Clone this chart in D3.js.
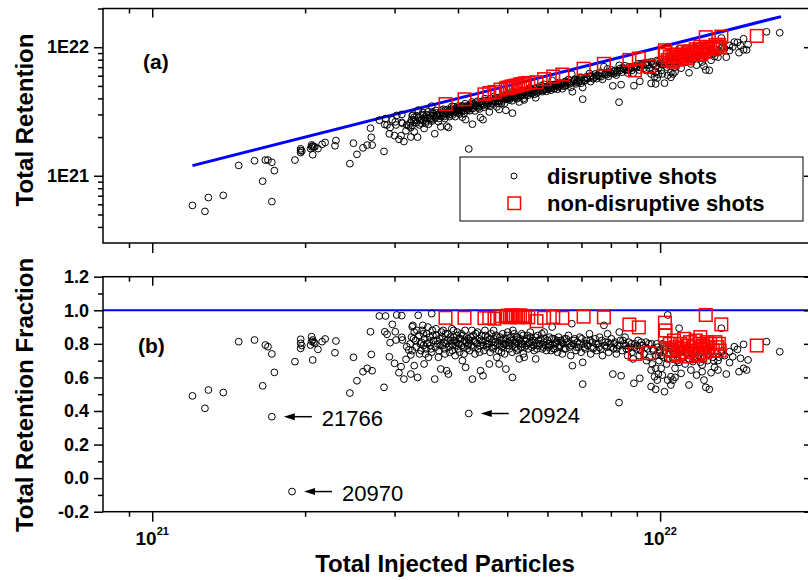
<!DOCTYPE html>
<html><head><meta charset="utf-8">
<script src="https://cdn.jsdelivr.net/npm/d3@7"></script>
<style>body{margin:0;background:#fff}svg{display:block}text{font-family:"Liberation Sans",Arial,Helvetica,sans-serif}</style>
</head><body><svg id="chart" width="808" height="580"></svg>
<script>
// ---------- data (injected particles in units of 1e21, retention fraction) ----------
const xMajorTicks = [1e21, 1e22];
const xTickExponents = ["21", "22"];
const retMajorTicks = [1e21, 1e22];
const retTickLabels = ["1E21", "1E22"];
const fracMajorTicks = [-0.2, 0.0, 0.2, 0.4, 0.6, 0.8, 1.0, 1.2];
const seriesNames = ["disruptive shots", "non-disruptive shots"];
const panelLabels = ["(a)", "(b)"];
const axisTitles = ["Total Retention", "Total Retention Fraction", "Total Injected Particles"];
const fullRetentionRange = [1.2, 17.3];   // 100% retention line, injected ×1e21
const fullRetentionFraction = 1.0;

const disruptive = [
 [1.20,0.49],[1.27,0.416],[1.29,0.525],[1.38,0.51],[1.48,0.813],[1.59,0.823],[1.67,0.793],[1.69,0.783],
 [1.72,0.74],[1.74,0.63],[1.65,0.55],[1.72,0.366],[1.885,-0.08],
 [1.91,0.694],[1.96,0.827],[1.96,0.803],[1.96,0.773],[1.97,0.79],[2.06,0.843],[2.07,0.823],[2.05,0.793],
 [2.09,0.803],[2.06,0.815],[2.08,0.81],[2.12,0.767],[2.19,0.829],[2.16,0.813],[2.30,0.817],[2.29,0.747],
 [2.07,0.704],[2.49,0.72],[2.69,0.872],[2.70,0.737],[2.53,0.58],[2.45,0.507],[2.60,0.634],[2.65,0.654],
 [2.71,0.64],[2.86,0.541],[2.80,0.966],[2.88,0.966],[3.03,0.972],[3.10,0.968],[2.97,0.916],[2.87,0.872],
 [2.90,0.857],[3.01,0.872],[2.94,0.807],[3.02,0.823],[3.10,0.839],[3.11,0.823],[2.93,0.723],[3.00,0.684],
 [3.09,0.664],[3.06,0.628],[3.13,0.59],[3.23,0.62],[3.17,0.783],[3.20,0.763],[3.23,0.734],[3.16,0.708],[3.25,0.902],
 [3.22,0.80],[3.24,0.84],[3.25,0.76],[3.26,0.91],[3.28,0.87],[3.28,0.67],[3.30,0.82],[3.31,0.78],[3.33,0.60],
 [3.34,0.97],[3.35,0.85],[3.36,0.74],[3.38,0.76],[3.39,0.81],[3.40,0.88],[3.41,0.91],[3.42,0.79],[3.43,0.68],
 [3.44,0.83],[3.46,0.77],[3.47,0.86],[3.48,0.80],[3.50,0.72],[3.52,0.84],[3.53,0.79],[3.55,0.98],[3.55,0.75],
 [3.56,0.88],[3.58,0.82],[3.60,0.59],[3.61,0.78],[3.63,0.85],[3.65,0.80],[3.67,0.76],[3.68,0.83],[3.70,0.65],
 [3.71,0.87],[3.73,0.79],[3.75,0.81],[3.77,0.74],[3.78,0.86],[3.80,0.64],[3.81,0.82],[3.83,0.62],[3.84,0.78],
 [3.86,0.84],[3.88,0.80],[3.90,0.76],[3.92,0.88],[3.94,0.82],[3.96,0.79],[3.98,0.85],[4.00,0.77],[4.02,0.83],
 [4.04,0.80],[4.06,0.86],[4.08,0.70],[4.10,0.78],[4.12,0.82],[4.14,0.66],[4.16,0.84],[4.18,0.79],
 [3.27,0.83],[3.32,0.88],[3.37,0.80],[3.42,0.86],[3.45,0.74],[3.49,0.90],[3.51,0.81],[3.54,0.77],[3.57,0.85],
 [3.62,0.89],[3.64,0.82],[3.66,0.72],[3.69,0.79],[3.72,0.84],[3.74,0.88],[3.76,0.77],[3.79,0.80],[3.82,0.86],
 [3.85,0.75],[3.87,0.82],[3.89,0.89],[3.91,0.79],[3.93,0.84],[3.95,0.73],[3.97,0.81],[3.99,0.87],[4.01,0.80],
 [4.03,0.75],[4.05,0.83],[4.07,0.79],[4.09,0.85],[4.11,0.74],[4.13,0.88],[4.15,0.81],[4.17,0.77],[4.19,0.83],
 [4.20,0.385],
 [4.20,0.80],[4.22,0.76],[4.24,0.84],[4.26,0.88],[4.27,0.59],[4.28,0.78],[4.30,0.82],[4.32,0.74],[4.34,0.86],
 [4.36,0.80],[4.38,0.77],[4.40,0.83],[4.42,0.79],[4.43,0.64],[4.45,0.85],[4.47,0.81],[4.48,0.61],[4.50,0.76],
 [4.52,0.88],[4.54,0.82],[4.56,0.78],[4.58,0.84],[4.60,0.80],[4.61,0.68],[4.63,0.75],[4.65,0.86],[4.67,0.81],
 [4.69,0.77],[4.71,0.83],[4.73,0.79],[4.75,0.85],[4.77,0.72],[4.79,0.80],[4.81,0.76],[4.82,0.68],[4.84,0.84],
 [4.86,0.82],[4.88,0.78],[4.90,0.86],[4.92,0.80],[4.94,0.74],[4.96,0.83],[4.97,0.65],[4.99,0.79],[5.01,0.87],
 [5.03,0.81],[5.05,0.77],[5.07,0.84],[5.09,0.80],[5.11,0.75],[5.12,0.60],[5.14,0.82],[5.16,0.86],[5.18,0.78],
 [5.20,0.81],[5.22,0.76],[5.24,0.84],[5.26,0.80],[5.28,0.71],[5.30,0.83],[5.32,0.78],[5.34,0.86],[5.36,0.80],
 [5.38,0.74],[5.40,0.72],[5.42,0.82],[5.45,0.79],[5.48,0.85],[5.50,0.77],[5.53,0.81],[5.56,0.84],[5.59,0.78],
 [5.62,0.82],[5.65,0.76],[5.69,0.71],[5.70,0.80],[5.74,0.85],[5.78,0.79],[5.82,0.83],[5.86,0.77],[5.90,0.81],
 [5.91,0.87],[5.95,0.79],
 [4.21,0.82],[4.25,0.79],[4.29,0.85],[4.33,0.81],[4.37,0.87],[4.41,0.75],[4.44,0.82],[4.49,0.79],[4.53,0.85],
 [4.57,0.80],[4.62,0.83],[4.66,0.78],[4.70,0.88],[4.74,0.81],[4.78,0.84],[4.83,0.79],[4.87,0.75],[4.91,0.83],
 [4.95,0.80],[5.00,0.85],[5.04,0.79],[5.08,0.82],[5.13,0.88],[5.17,0.80],[5.21,0.84],[5.25,0.77],[5.29,0.82],
 [5.33,0.80],[5.37,0.85],[5.41,0.78],[5.46,0.83],[5.51,0.80],[5.55,0.87],[5.60,0.81],[5.64,0.79],[5.68,0.84],
 [5.72,0.77],[5.76,0.82],[5.80,0.80],[5.85,0.86],[5.89,0.78],[5.93,0.83],[5.97,0.76],
 [6.00,0.82],[6.03,0.78],[6.06,0.84],[6.10,0.76],[6.13,0.90],[6.15,0.80],[6.18,0.83],[6.21,0.77],[6.25,0.81],
 [6.28,0.75],[6.31,0.84],[6.35,0.79],[6.38,0.82],[6.42,0.74],[6.45,0.80],[6.49,0.83],[6.52,0.77],[6.56,0.81],
 [6.60,0.85],[6.63,0.78],[6.67,0.73],[6.70,0.92],[6.72,0.67],[6.75,0.80],[6.79,0.83],[6.83,0.76],[6.87,0.81],
 [6.91,0.78],[6.95,0.84],[6.99,0.75],[7.04,0.69],[7.04,0.56],[7.08,0.80],[7.12,0.77],[7.16,0.82],[7.20,0.79],
 [7.26,0.86],[7.30,0.74],[7.35,0.81],[7.40,0.78],[7.45,0.83],[7.50,0.76],[7.55,0.80],[7.60,0.84],[7.65,0.77],
 [7.70,0.73],[7.75,0.91],[7.80,0.81],[7.85,0.78],[7.88,0.86],[7.92,0.75],[7.97,0.80],[8.02,0.83],[8.07,0.62],
 [8.10,0.77],[8.15,0.81],[8.20,0.74],[8.25,0.79],[8.30,0.45],[8.31,0.87],[8.35,0.82],[8.38,0.61],[8.42,0.76],
 [8.48,0.80],[8.53,0.84],[8.58,0.77],[8.63,0.73],[8.68,0.81],[8.74,0.78],[8.80,0.75],[8.88,0.565],[8.92,0.80],
 [8.98,0.77],[9.05,0.82],[9.12,0.595],[9.15,0.76],[9.22,0.79],[9.30,0.74],[9.38,0.81],[9.45,0.77],[9.52,0.72],
 [9.60,0.644],[9.60,0.545],[9.62,0.80],[9.70,0.76],[9.75,0.604],[9.80,0.654],[9.80,0.529],[9.82,0.73],
 [9.87,0.584],[9.90,0.78],[9.95,0.70],
 [6.02,0.80],[6.08,0.79],[6.12,0.83],[6.17,0.77],[6.22,0.80],[6.27,0.82],[6.33,0.78],[6.40,0.81],[6.47,0.77],
 [6.54,0.83],[6.61,0.80],[6.68,0.79],[6.77,0.82],[6.85,0.78],[6.93,0.80],[7.01,0.83],[7.10,0.78],[7.18,0.80],
 [7.28,0.82],[7.38,0.77],[7.48,0.80],[7.58,0.78],[7.68,0.82],[7.78,0.79],[7.90,0.81],[8.00,0.78],[8.12,0.80],
 [8.22,0.77],[8.33,0.79],[8.45,0.82],[8.55,0.79],[8.66,0.77],[8.78,0.80],[8.90,0.78],[9.02,0.79],[9.18,0.81],
 [9.35,0.78],[9.50,0.80],[9.68,0.77],[9.85,0.80],[9.98,0.75],[9.40,0.70],[9.10,0.73],[8.85,0.71],[9.65,0.68],[9.92,0.62],
 [10.05,0.654],[10.10,0.614],[10.20,0.515],[10.35,0.584],[10.35,0.972],[10.50,0.604],[10.00,0.76],[10.10,0.80],
 [10.15,0.72],[10.25,0.78],[10.30,0.68],[10.40,0.74],[10.45,0.79],[10.50,0.555],[10.60,0.584],[10.70,0.60],
 [10.70,0.654],[10.60,0.71],[10.80,0.75],[10.90,0.893],[10.90,0.69],[11.00,0.624],[11.00,0.77],[11.10,0.72],
 [11.20,0.68],[11.30,0.74],[11.40,0.555],[11.50,0.644],[11.50,0.76],[11.60,0.694],[11.70,0.71],[11.80,0.614],
 [11.90,0.73],[12.00,0.69],[12.10,0.634],[12.10,0.674],[12.20,0.584],[12.30,0.541],[12.50,0.529],[12.40,0.70],
 [12.60,0.628],[12.70,0.72],[12.80,0.66],[13.00,0.644],[13.00,0.70],[13.20,0.893],[13.30,0.76],[13.50,0.62],
 [13.70,0.753],[13.70,0.688],[13.90,0.723],[14.00,0.783],[14.20,0.767],[14.30,0.634],[14.40,0.714],[14.60,0.797],
 [14.60,0.654],[14.80,0.644],[14.90,0.704],[16.20,0.813],[17.20,0.753],
 [10.05,0.73],[10.20,0.75],[10.35,0.71],[10.50,0.77],[10.65,0.74],[10.80,0.70],[10.95,0.76],[11.10,0.73],
 [11.25,0.77],[11.40,0.71],[11.55,0.74],[11.70,0.76],[11.85,0.72],[12.00,0.75],[12.15,0.71],[12.30,0.77],
 [12.45,0.73],[12.60,0.75],[12.75,0.70],[12.90,0.74],[13.05,0.72],[13.20,0.75],[13.40,0.73]
];

const nonDisruptive = [
 [3.78,0.955],[4.12,0.955],[4.51,0.953],[4.61,0.955],[4.72,0.95],[4.85,0.965],[4.97,0.962],[5.01,0.968],
 [5.06,0.958],[5.10,0.970],[5.15,0.962],[5.20,0.966],[5.25,0.958],[5.30,0.970],[5.36,0.962],[5.42,0.966],
 [5.50,0.958],[5.71,0.935],[5.91,0.955],[6.16,0.960],[6.42,0.955],[7.07,0.962],[7.75,0.958],[8.70,0.915],
 [9.08,0.898],[8.92,0.740],[9.52,0.745],[10.22,0.926],[10.25,0.880],[10.22,0.850],[10.35,0.767],
 [10.45,0.80],[10.55,0.76],[10.65,0.82],[10.75,0.78],[10.85,0.74],[10.95,0.80],[11.05,0.77],[11.15,0.83],
 [11.25,0.75],[11.35,0.79],[11.45,0.81],[11.55,0.76],[11.65,0.78],[11.75,0.82],[11.85,0.74],[11.95,0.80],
 [12.05,0.77],[12.00,0.84],[12.15,0.79],[12.25,0.75],[12.35,0.81],[12.45,0.78],[12.55,0.80],[12.70,0.76],
 [12.85,0.81],[12.95,0.78],[13.05,0.80],[13.10,0.76],[10.60,0.73],[11.30,0.725],[12.00,0.73],
 [12.30,0.972],[13.20,0.916],[15.50,0.79]
];

const annotations = [
 {label: "21766", inj: 1.72, frac: 0.366},
 {label: "20924", inj: 4.20, frac: 0.385},
 {label: "20970", inj: 1.885, frac: -0.08}
];

// ---------- layout ----------
const E21 = 1e21;
const L = 103, R = 813;
const topP = {y0: 8.5, y1: 243};
const botP = {y0: 276.7, y1: 511.7};
const svg = d3.select("#chart");

const x = d3.scaleLog().domain([0.8e21, 2e22]).range([L, R]);
const yRet = d3.scaleLog().domain([3e20, 2e22]).range([topP.y1, topP.y0]);
const yFrac = d3.scaleLinear().domain([-0.2, 1.2]).range([botP.y1, botP.y0]);

const xMinor = [9e20, 2e21,3e21,4e21,5e21,6e21,7e21,8e21,9e21, 2e22];
const retMinor = [4e20,5e20,6e20,7e20,8e20,9e20, 2e21,3e21,4e21,5e21,6e21,7e21,8e21,9e21, 2e22];
const fracMinor = [-0.1, 0.1, 0.3, 0.5, 0.7, 0.9, 1.1];

const MAJ = 9, MIN = 5;
function styleAxis(g) {
  g.select(".domain").remove();
  g.selectAll(".tick line").attr("stroke", "#000").attr("stroke-width", 1.5);
  g.selectAll(".tick text").attr("fill", "#000").attr("font-weight", "bold")
   .attr("font-size", 18).attr("font-family", "'Liberation Sans', Arial, sans-serif");
}
function xAxes(panel) {
  svg.append("g").attr("transform", `translate(0,${panel.y1})`)
    .call(d3.axisBottom(x).tickValues(xMinor).tickSize(MIN).tickFormat("")).call(styleAxis);
  svg.append("g").attr("transform", `translate(0,${panel.y1})`)
    .call(d3.axisBottom(x).tickValues(xMajorTicks).tickSize(10).tickFormat("")).call(styleAxis);
  svg.append("g").attr("transform", `translate(0,${panel.y0})`)
    .call(d3.axisBottom(x).tickValues(xMinor).tickSize(MIN).tickFormat("")).call(styleAxis);
  svg.append("g").attr("transform", `translate(0,${panel.y0})`)
    .call(d3.axisBottom(x).tickValues(xMajorTicks).tickSize(MAJ).tickFormat("")).call(styleAxis);
}
function yAxes(scale, major, minor, fmt) {
  svg.append("g").attr("transform", `translate(${L},0)`)
    .call(d3.axisLeft(scale).tickValues(minor).tickSize(MIN).tickFormat("")).call(styleAxis);
  svg.append("g").attr("transform", `translate(${L},0)`)
    .call(d3.axisLeft(scale).tickValues(major).tickSize(MAJ).tickPadding(5).tickFormat(fmt)).call(styleAxis);
  svg.append("g").attr("transform", `translate(${R},0)`)
    .call(d3.axisLeft(scale).tickValues(minor).tickSize(MIN).tickFormat("")).call(styleAxis);
  svg.append("g").attr("transform", `translate(${R},0)`)
    .call(d3.axisLeft(scale).tickValues(major).tickSize(MAJ).tickFormat("")).call(styleAxis);
}

const defs = svg.append("defs");
defs.append("clipPath").attr("id", "clipTop").append("rect")
  .attr("x", L).attr("y", topP.y0).attr("width", R - L).attr("height", topP.y1 - topP.y0);
defs.append("clipPath").attr("id", "clipBot").append("rect")
  .attr("x", L).attr("y", botP.y0).attr("width", R - L).attr("height", botP.y1 - botP.y0);

// ---------- panel (a) ----------
const gA = svg.append("g").attr("clip-path", "url(#clipTop)");
gA.append("line")
  .attr("x1", x(fullRetentionRange[0] * E21)).attr("y1", yRet(fullRetentionRange[0] * E21))
  .attr("x2", x(fullRetentionRange[1] * E21)).attr("y2", yRet(fullRetentionRange[1] * E21))
  .attr("stroke", "#0000ff").attr("stroke-width", 3);
gA.selectAll("circle.d").data(disruptive.filter(d => d[1] > 0)).join("circle")
  .attr("class", "d")
  .attr("cx", d => x(d[0] * E21)).attr("cy", d => yRet(d[0] * d[1] * E21)).attr("r", 3.4)
  .attr("fill", "none").attr("stroke", "#000").attr("stroke-width", 1);
gA.selectAll("rect.n").data(nonDisruptive).join("rect")
  .attr("class", "n")
  .attr("x", d => x(d[0] * E21) - 6.3).attr("y", d => yRet(d[0] * d[1] * E21) - 6.3)
  .attr("width", 12.6).attr("height", 12.6)
  .attr("fill", "none").attr("stroke", "#ff0000").attr("stroke-width", 1.5);

// ---------- panel (b) ----------
const gB = svg.append("g").attr("clip-path", "url(#clipBot)");
gB.append("line")
  .attr("x1", L).attr("x2", R)
  .attr("y1", yFrac(fullRetentionFraction)).attr("y2", yFrac(fullRetentionFraction))
  .attr("stroke", "#0000ff").attr("stroke-width", 2.2);
gB.selectAll("circle.d").data(disruptive).join("circle")
  .attr("class", "d")
  .attr("cx", d => x(d[0] * E21)).attr("cy", d => yFrac(d[1])).attr("r", 3.4)
  .attr("fill", "none").attr("stroke", "#000").attr("stroke-width", 1);
gB.selectAll("rect.n").data(nonDisruptive).join("rect")
  .attr("class", "n")
  .attr("x", d => x(d[0] * E21) - 6.3).attr("y", d => yFrac(d[1]) - 6.3)
  .attr("width", 12.6).attr("height", 12.6)
  .attr("fill", "none").attr("stroke", "#ff0000").attr("stroke-width", 1.5);

// annotations
annotations.forEach(a => {
  const px = x(a.inj * E21), py = yFrac(a.frac);
  svg.append("line").attr("x1", px + 20).attr("x2", px + 40).attr("y1", py).attr("y2", py)
    .attr("stroke", "#000").attr("stroke-width", 1.5);
  svg.append("path")
    .attr("d", `M${px + 12},${py} L${px + 23},${py - 3.5} L${px + 23},${py + 3.5} Z`)
    .attr("fill", "#000");
  svg.append("text").attr("x", px + 50).attr("y", py + 9).text(a.label)
    .attr("font-size", 22).attr("fill", "#000");
});

// ---------- axes ----------
xAxes(topP);
xAxes(botP);
yAxes(yRet, retMajorTicks, retMinor, (d, i) => retTickLabels[i]);
yAxes(yFrac, fracMajorTicks, fracMinor, d => d.toFixed(1));

[topP, botP].forEach(p => {
  svg.append("rect").attr("x", L).attr("y", p.y0).attr("width", R - L).attr("height", p.y1 - p.y0)
    .attr("fill", "none").attr("stroke", "#000").attr("stroke-width", 1.5);
});

xMajorTicks.forEach((v, i) => {
  const t = svg.append("text").attr("x", x(v)).attr("y", 545).attr("text-anchor", "middle")
    .attr("font-weight", "bold").attr("font-size", 19).attr("fill", "#000");
  t.append("tspan").text("10");
  t.append("tspan").attr("dy", -10).attr("font-size", 11).text(xTickExponents[i]);
});

svg.append("text").attr("x", 143).attr("y", 69).text(panelLabels[0])
  .attr("font-weight", "bold").attr("font-size", 21);
svg.append("text").attr("x", 138).attr("y", 353).text(panelLabels[1])
  .attr("font-weight", "bold").attr("font-size", 21);

svg.append("text").attr("transform", "translate(33,120) rotate(-90)").attr("text-anchor", "middle")
  .attr("font-weight", "bold").attr("font-size", 24).text(axisTitles[0]);
svg.append("text").attr("transform", "translate(33,395) rotate(-90)").attr("text-anchor", "middle")
  .attr("font-weight", "bold").attr("font-size", 24).text(axisTitles[1]);
svg.append("text").attr("x", 445).attr("y", 572).attr("text-anchor", "middle")
  .attr("font-weight", "bold").attr("font-size", 24).text(axisTitles[2]);

const lg = svg.append("g");
lg.append("rect").attr("x", 460).attr("y", 157).attr("width", 343).attr("height", 64)
  .attr("fill", "#fff").attr("stroke", "#000").attr("stroke-width", 1);
lg.append("circle").attr("cx", 514).attr("cy", 176).attr("r", 3).attr("fill", "none")
  .attr("stroke", "#000").attr("stroke-width", 1);
lg.append("rect").attr("x", 508).attr("y", 197).attr("width", 12.5).attr("height", 12.5)
  .attr("fill", "none").attr("stroke", "#ff0000").attr("stroke-width", 1.5);
lg.append("text").attr("x", 547).attr("y", 184).text(seriesNames[0])
  .attr("font-weight", "bold").attr("font-size", 22);
lg.append("text").attr("x", 547).attr("y", 211).text(seriesNames[1])
  .attr("font-weight", "bold").attr("font-size", 22);
</script>
</body></html>
